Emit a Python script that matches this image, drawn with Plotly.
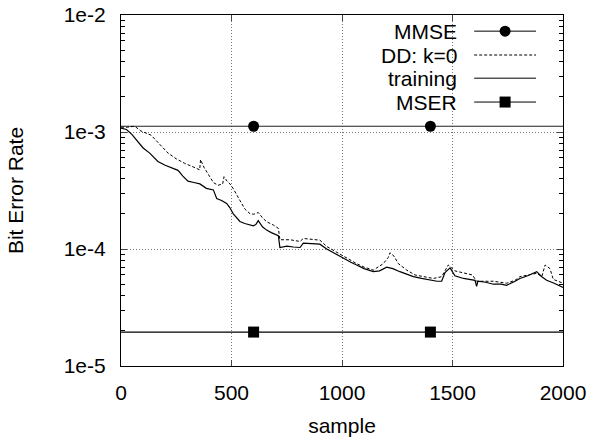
import plotly.graph_objects as go

# ---- data ----
train_x = [0, 25, 50, 75, 100, 130, 167, 200, 230, 258, 280, 303, 330, 357, 386, 418, 433, 455,
           478, 493, 508, 525, 538, 560, 580, 599, 610, 621, 640, 659, 680, 704, 712, 719, 750,
           780, 810, 825, 878, 900, 931, 960, 985, 1006, 1040, 1066, 1100, 1142, 1170, 1202,
           1230, 1262, 1290, 1323, 1360, 1398, 1430, 1451, 1466, 1489, 1511, 1550, 1580, 1602,
           1609, 1615, 1650, 1685, 1720, 1745, 1783, 1805, 1840, 1881, 1904, 1926, 1960, 2000]
train_y = [1.08e-3, 1.05e-3, 9.5e-4, 8.3e-4, 7.3e-4, 6.6e-4, 5.6e-4, 5.2e-4, 4.9e-4, 4.7e-4,
           4.2e-4, 3.8e-4, 3.7e-4, 3.6e-4, 3.3e-4, 3.2e-4, 2.7e-4, 2.6e-4, 2.45e-4, 2.25e-4,
           2.0e-4, 1.85e-4, 1.72e-4, 1.65e-4, 1.62e-4, 1.58e-4, 1.62e-4, 1.75e-4, 1.55e-4,
           1.45e-4, 1.38e-4, 1.32e-4, 1.3e-4, 1.03e-4, 1.06e-4, 1.04e-4, 1.03e-4, 1.12e-4,
           1.1e-4, 1.1e-4, 1.0e-4, 9.3e-5, 8.7e-5, 8.3e-5, 7.7e-5, 7.3e-5, 6.8e-5, 6.4e-5,
           6.5e-5, 7.0e-5, 6.8e-5, 6.4e-5, 6.1e-5, 5.8e-5, 5.6e-5, 5.4e-5, 5.3e-5, 5.3e-5,
           6.3e-5, 6.9e-5, 5.9e-5, 5.6e-5, 5.5e-5, 5.4e-5, 4.8e-5, 5.3e-5, 5.2e-5, 5.0e-5,
           5.0e-5, 4.9e-5, 5.3e-5, 5.6e-5, 5.9e-5, 6.4e-5, 5.8e-5, 5.4e-5, 5.1e-5, 4.7e-5]

dd_x = [0, 30, 62, 90, 136, 170, 213, 250, 288, 330, 356, 360, 375, 400, 418, 439, 460, 466,
        480, 493, 507, 538, 560, 584, 600, 621, 640, 659, 690, 712, 719, 765, 810, 825, 878,
        900, 931, 970, 1006, 1040, 1066, 1100, 1142, 1187, 1210, 1217, 1235, 1255, 1293, 1330,
        1370, 1413, 1451, 1470, 1481, 1511, 1564, 1590, 1609, 1685, 1745, 1783, 1805, 1881,
        1904, 1919, 1941, 1956, 2000]
dd_y = [1.1e-3, 1.1e-3, 1.12e-3, 1.02e-3, 9.4e-4, 8.0e-4, 6.6e-4, 5.9e-4, 5.4e-4, 5.0e-4,
        4.75e-4, 5.8e-4, 5.0e-4, 4.2e-4, 3.7e-4, 3.5e-4, 3.6e-4, 4.15e-4, 3.8e-4, 3.6e-4,
        3.3e-4, 2.6e-4, 2.2e-4, 2.0e-4, 1.98e-4, 2.05e-4, 1.85e-4, 1.71e-4, 1.6e-4, 1.5e-4,
        1.2e-4, 1.2e-4, 1.16e-4, 1.23e-4, 1.19e-4, 1.19e-4, 1.05e-4, 9.5e-5, 8.6e-5, 8.0e-5,
        7.5e-5, 7.0e-5, 6.6e-5, 7.5e-5, 8.5e-5, 9.3e-5, 8.7e-5, 7.5e-5, 6.6e-5, 6.0e-5,
        5.8e-5, 5.6e-5, 5.8e-5, 6.8e-5, 7.3e-5, 6.5e-5, 6.2e-5, 6.0e-5, 5.3e-5, 5.3e-5,
        5.1e-5, 5.4e-5, 5.8e-5, 6.2e-5, 5.8e-5, 7.3e-5, 6.8e-5, 5.5e-5, 5.1e-5]

mmse_level = 1.12e-3
mser_level = 1.95e-5
marker_x = [600, 1400]
x_range = [0, 2000]

x_ticks = [0, 500, 1000, 1500, 2000]
y_ticks = [1e-5, 1e-4, 1e-3, 1e-2]
y_ticktext = ["1e-5", "1e-4", "1e-3", "1e-2"]

series_names = ["MMSE", "DD: k=0", "training", "MSER"]

FONT = "Liberation Sans, Arial, sans-serif"
FS = 21

fig = go.Figure()

fig.add_trace(go.Scatter(x=x_range, y=[mmse_level] * 2, mode="lines",
                         line=dict(color="#222", width=1.2), hoverinfo="skip"))
fig.add_trace(go.Scatter(x=marker_x, y=[mmse_level] * 2, mode="markers",
                         marker=dict(symbol="circle", size=11, color="black")))
fig.add_trace(go.Scatter(x=dd_x, y=dd_y, mode="lines",
                         line=dict(color="black", width=1, dash="3px,2px")))
fig.add_trace(go.Scatter(x=train_x, y=train_y, mode="lines",
                         line=dict(color="black", width=1.2)))
fig.add_trace(go.Scatter(x=x_range, y=[mser_level] * 2, mode="lines",
                         line=dict(color="black", width=1.2), hoverinfo="skip"))
fig.add_trace(go.Scatter(x=marker_x, y=[mser_level] * 2, mode="markers",
                         marker=dict(symbol="square", size=11, color="black")))

# ---- gnuplot-style key: text right-aligned, sample to its right ----
key_text_x = 0.765
key_line_x0, key_line_x1 = 0.799, 0.939
key_mark_x = 0.869
key_rows_y = [0.954, 0.886, 0.820, 0.752]
key_dash = ["solid", "3px,2px", "solid", "solid"]
key_marker = ["circle", None, None, "square"]

shapes = []
annotations = []
for name, ky, dash, mk in zip(series_names, key_rows_y, key_dash, key_marker):
    annotations.append(dict(text=name, x=key_text_x, y=ky, xref="paper", yref="paper",
                            xanchor="right", yanchor="middle", showarrow=False,
                            font=dict(family=FONT, size=FS, color="black")))
    shapes.append(dict(type="line", xref="paper", yref="paper",
                       x0=key_line_x0, x1=key_line_x1, y0=ky, y1=ky,
                       line=dict(color="black", width=1, dash=dash)))
    if mk is not None:
        shapes.append(dict(type="circle" if mk == "circle" else "rect",
                           xref="paper", yref="paper",
                           xsizemode="pixel", ysizemode="pixel",
                           xanchor=key_mark_x, yanchor=ky,
                           x0=-5.5, x1=5.5, y0=-5.5, y1=5.5,
                           fillcolor="black", line=dict(color="black", width=0)))

fig.update_layout(
    width=594, height=437,
    margin=dict(l=121, r=31, t=15, b=71),
    paper_bgcolor="white", plot_bgcolor="white",
    font=dict(family=FONT, size=FS, color="black"),
    showlegend=False,
    shapes=shapes, annotations=annotations,
    xaxis=dict(range=x_range, tickvals=x_ticks, ticks="inside", ticklen=6,
               showline=True, linecolor="black", linewidth=1.2, mirror="ticks",
               showgrid=True, gridcolor="#777", griddash="1px,2px", gridwidth=1,
               zeroline=False, automargin=False, ticklabelstandoff=8,
               ticklabeloverflow="allow",
               title=dict(text="sample", font=dict(size=FS), standoff=18),
               tickfont=dict(size=FS)),
    yaxis=dict(type="log", range=[-5, -2], tickvals=y_ticks, ticktext=y_ticktext,
               ticks="inside", ticklen=6,
               showline=True, linecolor="black", linewidth=1.2, mirror="ticks",
               showgrid=True, gridcolor="#777", griddash="1px,2px", gridwidth=1,
               zeroline=False, automargin=False, ticklabelstandoff=10,
               ticklabeloverflow="allow",
               minor=dict(ticks="inside", ticklen=4, dtick="D1", showgrid=False,
                          tickcolor="black"),
               title=dict(text="Bit Error Rate", font=dict(size=FS), standoff=34),
               tickfont=dict(size=FS)),
)

fig.write_html("out.html", config={"displayModeBar": False},
               post_script="document.body.style.margin='0';document.body.style.overflow='hidden';")
